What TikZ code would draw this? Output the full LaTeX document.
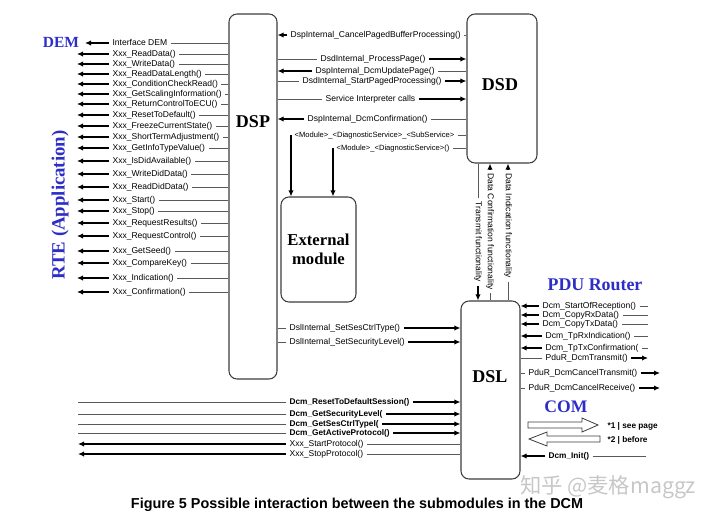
\documentclass[tikz,border=0pt]{standalone}
\usepackage{fontspec}
\setmainfont{Liberation Serif}
\setsansfont{Liberation Sans}
\newfontfamily\cjkfont{Noto Sans CJK SC}
\usetikzlibrary{arrows.meta,positioning}

\definecolor{dcmblue}{RGB}{45,45,200}
\definecolor{edge}{RGB}{60,60,60}

\tikzset{
  module/.style={draw=edge, line width=0.8pt, rounded corners=6pt, inner sep=0pt},
  modname/.style={font=\rmfamily\bfseries\fontsize{13.5}{15}\selectfont, inner sep=0pt},
  layer/.style={text=dcmblue, inner sep=0pt},
  fn/.style={font=\sffamily\fontsize{6.4}{7}\selectfont, inner ysep=0pt, inner xsep=2.5pt, text height=4.7pt, text depth=1.4pt},
  fnb/.style={fn, font=\sffamily\bfseries\fontsize{6.2}{7}\selectfont},
  fns/.style={fn, font=\sffamily\fontsize{5.7}{7}\selectfont},
  wire/.style={draw=black!65, line width=0.5pt},
  call/.style={line width=1.1pt, -{Latex[length=4.5pt,width=4pt]}},
}

\begin{document}
\begin{tikzpicture}[x=0.75pt, y=-0.75pt]
    \useasboundingbox (0,0) rectangle (715,518);

    % submodules
    \node[module, minimum width=36pt, minimum height=273.75pt] (dsp) at (253,196.5) {};
    \node[module, minimum width=52.5pt, minimum height=111.75pt] (dsd) at (502,88.5) {};
    \node[module, minimum width=44.25pt, minimum height=133.5pt] (dsl) at (490.5,390) {};
    \node[module, minimum width=56.25pt, minimum height=78.75pt, align=center,
          font=\rmfamily\bfseries\fontsize{12.5}{14.3}\selectfont] (ext) at (318.5,249.5) {External\\module};

    \node[modname] (dsplbl) at (253,122) {DSP};
    \node[modname] (dsdlbl) at (500,85) {DSD};
    \node[modname] (dsllbl) at (490,377) {DSL};

    % surrounding layers
    \node[layer, font=\rmfamily\bfseries\fontsize{11.6}{13}\selectfont] (dem) at (61,42) {DEM};
    \node[layer, rotate=90, font=\rmfamily\bfseries\fontsize{14.1}{16}\selectfont] (rte) at (60,205) {RTE (Application)};
    \node[layer, font=\rmfamily\bfseries\fontsize{13.4}{15}\selectfont] (pdu) at (595,285) {PDU Router};
    \node[layer, font=\rmfamily\bfseries\fontsize{13.2}{15}\selectfont] (com) at (566,407) {COM};

    \coordinate (demend) at (85,0);
    \coordinate (rteend) at (77,0);
    \coordinate (append) at (78,0);
    \coordinate (pduend) at (648,0);
    \coordinate (pdufar) at (660,0);
    \coordinate (comend) at (646,0);

    % DSP <-> DEM / RTE
    \node[fn, anchor=west] (idem) at (109,43) {Interface DEM};
    \draw[call] (idem.west) -- (idem.west -| demend);
    \draw[wire] (idem.east) -- (idem.east -| dsp.west);
    \node[fn, anchor=west] (rdata) at (109,54) {Xxx\_ReadData()};
    \draw[call] (rdata.west) -- (rdata.west -| rteend);
    \draw[wire] (rdata.east) -- (rdata.east -| dsp.west);
    \node[fn, anchor=west] (wdata) at (109,64) {Xxx\_WriteData()};
    \draw[call] (wdata.west) -- (wdata.west -| rteend);
    \draw[wire] (wdata.east) -- (wdata.east -| dsp.west);
    \node[fn, anchor=west] (rdlen) at (109,74) {Xxx\_ReadDataLength()};
    \draw[call] (rdlen.west) -- (rdlen.west -| rteend);
    \draw[wire] (rdlen.east) -- (rdlen.east -| dsp.west);
    \node[fn, anchor=west] (ccread) at (109,84) {Xxx\_ConditionCheckRead()};
    \draw[call] (ccread.west) -- (ccread.west -| rteend);
    \draw[wire] (ccread.east) -- (ccread.east -| dsp.west);
    \node[fn, anchor=west] (gsinfo) at (109,94) {Xxx\_GetScalingInformation()};
    \draw[call] (gsinfo.west) -- (gsinfo.west -| rteend);
    \draw[wire] (gsinfo.east) -- (gsinfo.east -| dsp.west);
    \node[fn, anchor=west] (rcecu) at (109,104) {Xxx\_ReturnControlToECU()};
    \draw[call] (rcecu.west) -- (rcecu.west -| rteend);
    \draw[wire] (rcecu.east) -- (rcecu.east -| dsp.west);
    \node[fn, anchor=west] (rtdef) at (109,115) {Xxx\_ResetToDefault()};
    \draw[call] (rtdef.west) -- (rtdef.west -| rteend);
    \draw[wire] (rtdef.east) -- (rtdef.east -| dsp.west);
    \node[fn, anchor=west] (fcstate) at (109,126) {Xxx\_FreezeCurrentState()};
    \draw[call] (fcstate.west) -- (fcstate.west -| rteend);
    \draw[wire] (fcstate.east) -- (fcstate.east -| dsp.west);
    \node[fn, anchor=west] (stadj) at (109,137) {Xxx\_ShortTermAdjustment()};
    \draw[call] (stadj.west) -- (stadj.west -| rteend);
    \draw[wire] (stadj.east) -- (stadj.east -| dsp.west);
    \node[fn, anchor=west] (gitval) at (109,148) {Xxx\_GetInfoTypeValue()};
    \draw[call] (gitval.west) -- (gitval.west -| rteend);
    \draw[wire] (gitval.east) -- (gitval.east -| dsp.west);
    \node[fn, anchor=west] (isdid) at (109,161) {Xxx\_IsDidAvailable()};
    \draw[call] (isdid.west) -- (isdid.west -| rteend);
    \draw[wire] (isdid.east) -- (isdid.east -| dsp.west);
    \node[fn, anchor=west] (wdid) at (109,174) {Xxx\_WriteDidData()};
    \draw[call] (wdid.west) -- (wdid.west -| rteend);
    \draw[wire] (wdid.east) -- (wdid.east -| dsp.west);
    \node[fn, anchor=west] (rdid) at (109,187) {Xxx\_ReadDidData()};
    \draw[call] (rdid.west) -- (rdid.west -| rteend);
    \draw[wire] (rdid.east) -- (rdid.east -| dsp.west);
    \node[fn, anchor=west] (xstart) at (109,200) {Xxx\_Start()};
    \draw[call] (xstart.west) -- (xstart.west -| rteend);
    \draw[wire] (xstart.east) -- (xstart.east -| dsp.west);
    \node[fn, anchor=west] (xstop) at (109,211) {Xxx\_Stop()};
    \draw[call] (xstop.west) -- (xstop.west -| rteend);
    \draw[wire] (xstop.east) -- (xstop.east -| dsp.west);
    \node[fn, anchor=west] (rres) at (109,223) {Xxx\_RequestResults()};
    \draw[call] (rres.west) -- (rres.west -| rteend);
    \draw[wire] (rres.east) -- (rres.east -| dsp.west);
    \node[fn, anchor=west] (rctrl) at (109,236) {Xxx\_RequestControl()};
    \draw[call] (rctrl.west) -- (rctrl.west -| rteend);
    \draw[wire] (rctrl.east) -- (rctrl.east -| dsp.west);
    \node[fn, anchor=west] (gseed) at (109,251) {Xxx\_GetSeed()};
    \draw[call] (gseed.west) -- (gseed.west -| rteend);
    \draw[wire] (gseed.east) -- (gseed.east -| dsp.west);
    \node[fn, anchor=west] (ckey) at (109,263) {Xxx\_CompareKey()};
    \draw[call] (ckey.west) -- (ckey.west -| rteend);
    \draw[wire] (ckey.east) -- (ckey.east -| dsp.west);
    \node[fn, anchor=west] (indic) at (109,278) {Xxx\_Indication()};
    \draw[call] (indic.west) -- (indic.west -| rteend);
    \draw[wire] (indic.east) -- (indic.east -| dsp.west);
    \node[fn, anchor=west] (confirm) at (109,292) {Xxx\_Confirmation()};
    \draw[call] (confirm.west) -- (confirm.west -| rteend);
    \draw[wire] (confirm.east) -- (confirm.east -| dsp.west);

    % DSP <-> DSD
    \node[fn, anchor=west] (cpbp) at (287,35) {DspInternal\_CancelPagedBufferProcessing()};
    \draw[call] (cpbp.west) -- (cpbp.west -| dsp.east);
    \draw[wire] (cpbp.east) -- (cpbp.east -| dsd.west);
    \node[fn, anchor=west] (ppage) at (317,59) {DsdInternal\_ProcessPage()};
    \draw[wire] (ppage.west) -- (ppage.west -| dsp.east);
    \draw[call] (ppage.east) -- (ppage.east -| dsd.west);
    \node[fn, anchor=west] (upage) at (312,71) {DspInternal\_DcmUpdatePage()};
    \draw[call] (upage.west) -- (upage.west -| dsp.east);
    \draw[wire] (upage.east) -- (upage.east -| dsd.west);
    \node[fn, anchor=west] (spproc) at (299,81) {DsdInternal\_StartPagedProcessing()};
    \draw[wire] (spproc.west) -- (spproc.west -| dsp.east);
    \draw[call] (spproc.east) -- (spproc.east -| dsd.west);
    \node[fn, anchor=west] (sicall) at (322,99) {Service Interpreter calls};
    \draw[wire] (sicall.west) -- (sicall.west -| dsp.east);
    \draw[call] (sicall.east) -- (sicall.east -| dsd.west);
    \node[fn, anchor=west] (dconf) at (304,119) {DspInternal\_DcmConfirmation()};
    \draw[call] (dconf.west) -- (dconf.west -| dsp.east);
    \draw[wire] (dconf.east) -- (dconf.east -| dsd.west);

    % DSD -> external module
    \node[fns, anchor=west] (subsrv) at (291,135) {<Module>\_<DiagnosticService>\_<SubService>};
    \draw[wire] (subsrv.east) -- (subsrv.east -| dsd.west);
    \draw[call] (subsrv.west) -- (subsrv.west |- ext.north);
    \node[fns, anchor=west] (diagsrv) at (333,148) {<Module>\_<DiagnosticService>()};
    \draw[wire] (diagsrv.east) -- (diagsrv.east -| dsd.west);
    \draw[call] (diagsrv.west) -- (diagsrv.west |- ext.north);

    % DSD <-> DSL
    \node[fn, rotate=-90, anchor=west] (txfunc) at (478,198) {Transmit functionality};
    \draw[wire] (txfunc.west) -- (txfunc.west |- dsd.south);
    \draw[call] (txfunc.east) -- (txfunc.east |- dsl.north);
    \node[fn, rotate=-90, anchor=west] (dcfunc) at (490,170) {Data Confirmation functionality};
    \draw[call] (dcfunc.west) -- (dcfunc.west |- dsd.south);
    \draw[wire] (dcfunc.east) -- (dcfunc.east |- dsl.north);
    \node[fn, rotate=-90, anchor=west] (difunc) at (508,170) {Data Indication functionality};
    \draw[call] (difunc.west) -- (difunc.west |- dsd.south);
    \draw[wire] (difunc.east) -- (difunc.east |- dsl.north);

    % DSL <-> PDU Router
    \node[fn, anchor=west] (sorec) at (539,306) {Dcm\_StartOfReception()};
    \draw[call] (sorec.west) -- (sorec.west -| dsl.east);
    \draw[wire] (sorec.east) -- (sorec.east -| pduend);
    \node[fn, anchor=west] (crx) at (539,315) {Dcm\_CopyRxData()};
    \draw[call] (crx.west) -- (crx.west -| dsl.east);
    \draw[wire] (crx.east) -- (crx.east -| pduend);
    \node[fn, anchor=west] (ctx) at (539,324) {Dcm\_CopyTxData()};
    \draw[call] (ctx.west) -- (ctx.west -| dsl.east);
    \draw[wire] (ctx.east) -- (ctx.east -| pduend);
    \node[fn, anchor=west] (rxind) at (542,336) {Dcm\_TpRxIndication()};
    \draw[call] (rxind.west) -- (rxind.west -| dsl.east);
    \draw[wire] (rxind.east) -- (rxind.east -| pduend);
    \node[fn, anchor=west] (txconf) at (542,348) {Dcm\_TpTxConfirmation(};
    \draw[call] (txconf.west) -- (txconf.west -| dsl.east);
    \draw[wire] (txconf.east) -- (txconf.east -| pduend);
    \node[fn, anchor=west] (ptx) at (542,358) {PduR\_DcmTransmit()};
    \draw[wire] (ptx.west) -- (ptx.west -| dsl.east);
    \draw[call] (ptx.east) -- (ptx.east -| pduend);
    \node[fn, anchor=west] (pctx) at (525,373) {PduR\_DcmCancelTransmit()};
    \draw[wire] (pctx.west) -- (pctx.west -| dsl.east);
    \draw[call] (pctx.east) -- (pctx.east -| pdufar);
    \node[fn, anchor=west] (pcrx) at (525,388) {PduR\_DcmCancelReceive()};
    \draw[wire] (pcrx.west) -- (pcrx.west -| dsl.east);
    \draw[call] (pcrx.east) -- (pcrx.east -| pdufar);

    % COM
    \draw[edge, line width=0.6pt] (528,422) -- (582,422) -- (582,418) -- (598,425)
        -- (582,432) -- (582,428) -- (528,428) -- cycle;
    \draw[edge, line width=0.6pt] (529,439) -- (547,432) -- (547,436) -- (600,436)
        -- (600,442) -- (547,442) -- (547,446) -- cycle;
    \node[fnb, anchor=west] (seepage) at (604,426) {*1 | see page};
    \node[fnb, anchor=west] (before) at (604,440) {*2 | before};
    \node[fnb, anchor=west] (dinit) at (545,456) {Dcm\_Init()};
    \draw[call] (dinit.west) -- (dinit.west -| dsl.east);
    \draw[wire] (dinit.east) -- (dinit.east -| comend);

    % DSP -> DSL
    \node[fn, anchor=west] (sesctrl) at (286,328) {DslInternal\_SetSesCtrlType()};
    \draw[wire] (sesctrl.west) -- (sesctrl.west -| dsp.east);
    \draw[call] (sesctrl.east) -- (sesctrl.east -| dsl.west);
    \node[fn, anchor=west] (seclvl) at (286,342) {DslInternal\_SetSecurityLevel()};
    \draw[wire] (seclvl.west) -- (seclvl.west -| dsp.east);
    \draw[call] (seclvl.east) -- (seclvl.east -| dsl.west);

    % application <-> DSL
    \node[fnb, anchor=west] (rdsess) at (286,402) {Dcm\_ResetToDefaultSession()};
    \draw[wire] (rdsess.west) -- (rdsess.west -| append);
    \draw[call] (rdsess.east) -- (rdsess.east -| dsl.west);
    \node[fnb, anchor=west] (gslvl) at (286,414) {Dcm\_GetSecurityLevel(};
    \draw[wire] (gslvl.west) -- (gslvl.west -| append);
    \draw[call] (gslvl.east) -- (gslvl.east -| dsl.west);
    \node[fnb, anchor=west] (gsctrl) at (286,424) {Dcm\_GetSesCtrlTypel(};
    \draw[wire] (gsctrl.west) -- (gsctrl.west -| append);
    \draw[call] (gsctrl.east) -- (gsctrl.east -| dsl.west);
    \node[fnb, anchor=west] (gaprot) at (286,433) {Dcm\_GetActiveProtocol()};
    \draw[wire] (gaprot.west) -- (gaprot.west -| append);
    \draw[call] (gaprot.east) -- (gaprot.east -| dsl.west);
    \node[fn, anchor=west] (sprot) at (286,444) {Xxx\_StartProtocol()};
    \draw[call] (sprot.west) -- (sprot.west -| append);
    \draw[wire] (sprot.east) -- (sprot.east -| dsl.west);
    \node[fn, anchor=west] (stprot) at (286,454) {Xxx\_StopProtocol()};
    \draw[call] (stprot.west) -- (stprot.west -| append);
    \draw[wire] (stprot.east) -- (stprot.east -| dsl.west);

    \node[font=\cjkfont\fontsize{16}{18}\selectfont, text=black!22] (mark) at (608,487) {知乎 @麦格maggz};
    \node[font=\sffamily\bfseries\fontsize{10.8}{12}\selectfont] (caption) at (357,505)
        {Figure 5 Possible interaction between the submodules in the DCM};
\end{tikzpicture}
\end{document}
